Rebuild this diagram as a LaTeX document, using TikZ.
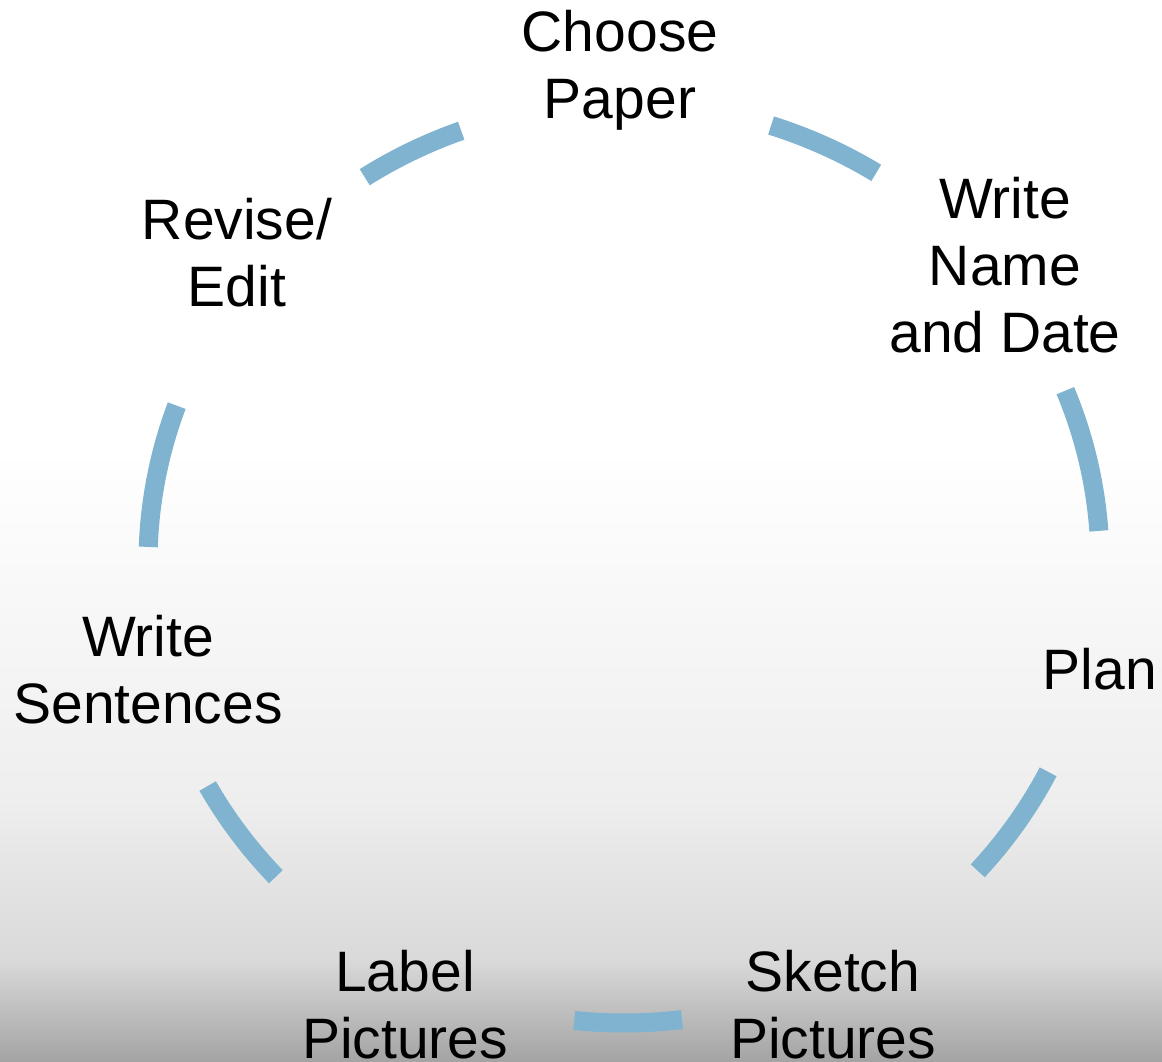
\documentclass[tikz,border=0pt]{standalone}
\usepackage{fontspec}
\setmainfont{Liberation Sans}
\usepackage{xcolor}
\usepackage{tikz}
\usetikzlibrary{positioning,calc}
\definecolor{segblue}{HTML}{7FB3CF}
\definecolor{bgtop}{HTML}{EEEEEE}
\definecolor{bgmid}{HTML}{D9D9D9}
\definecolor{bglow}{HTML}{A4A4A4}
\tikzset{
    stage/.style={anchor=north, align=center, inner sep=0pt,
        font=\fontsize{57}{67}\selectfont},
    seg/.style={draw=segblue, line width=19pt}
}

\begin{document}
\begin{tikzpicture}[x=1pt,y=1pt]
    \useasboundingbox (0,0) rectangle (1162,1061);
    % background
    \fill[white] (0,610) rectangle (1162,1061);
    \shade[top color=white, bottom color=bgtop] (0,260) rectangle (1162,610.5);
    \shade[top color=bgtop, bottom color=bgmid] (0,100) rectangle (1162,260.5);
    \shade[top color=bgmid, bottom color=bglow] (0,0) rectangle (1162,100.5);

    \coordinate (cyc) at (624,498);

    % arc pieces between the stages
    \foreach \a/\b in {110/123, 58/72, 4/22, -42/-27, -96/-83, -151/-137, 160/178}
        \draw[seg] ($(cyc)+(\a:476 and 460)$) arc[start angle=\a, end angle=\b, x radius=476, y radius=460];

    \node[stage] (choose) at (620,1051) {Choose\\Paper};
    \node[stage] (namedate) at (1005,884) {Write\\Name\\and Date};
    \node[stage] (plan) at (1100,413) {Plan};
    \node[stage] (sketch) at (833,111) {Sketch\\Pictures};
    \node[stage] (label) at (405,111) {Label\\Pictures};
    \node[stage] (sentences) at (148,446) {Write\\Sentences};
    \node[stage] (revise) at (237,863) {Revise/\\Edit};
\end{tikzpicture}
\end{document}
